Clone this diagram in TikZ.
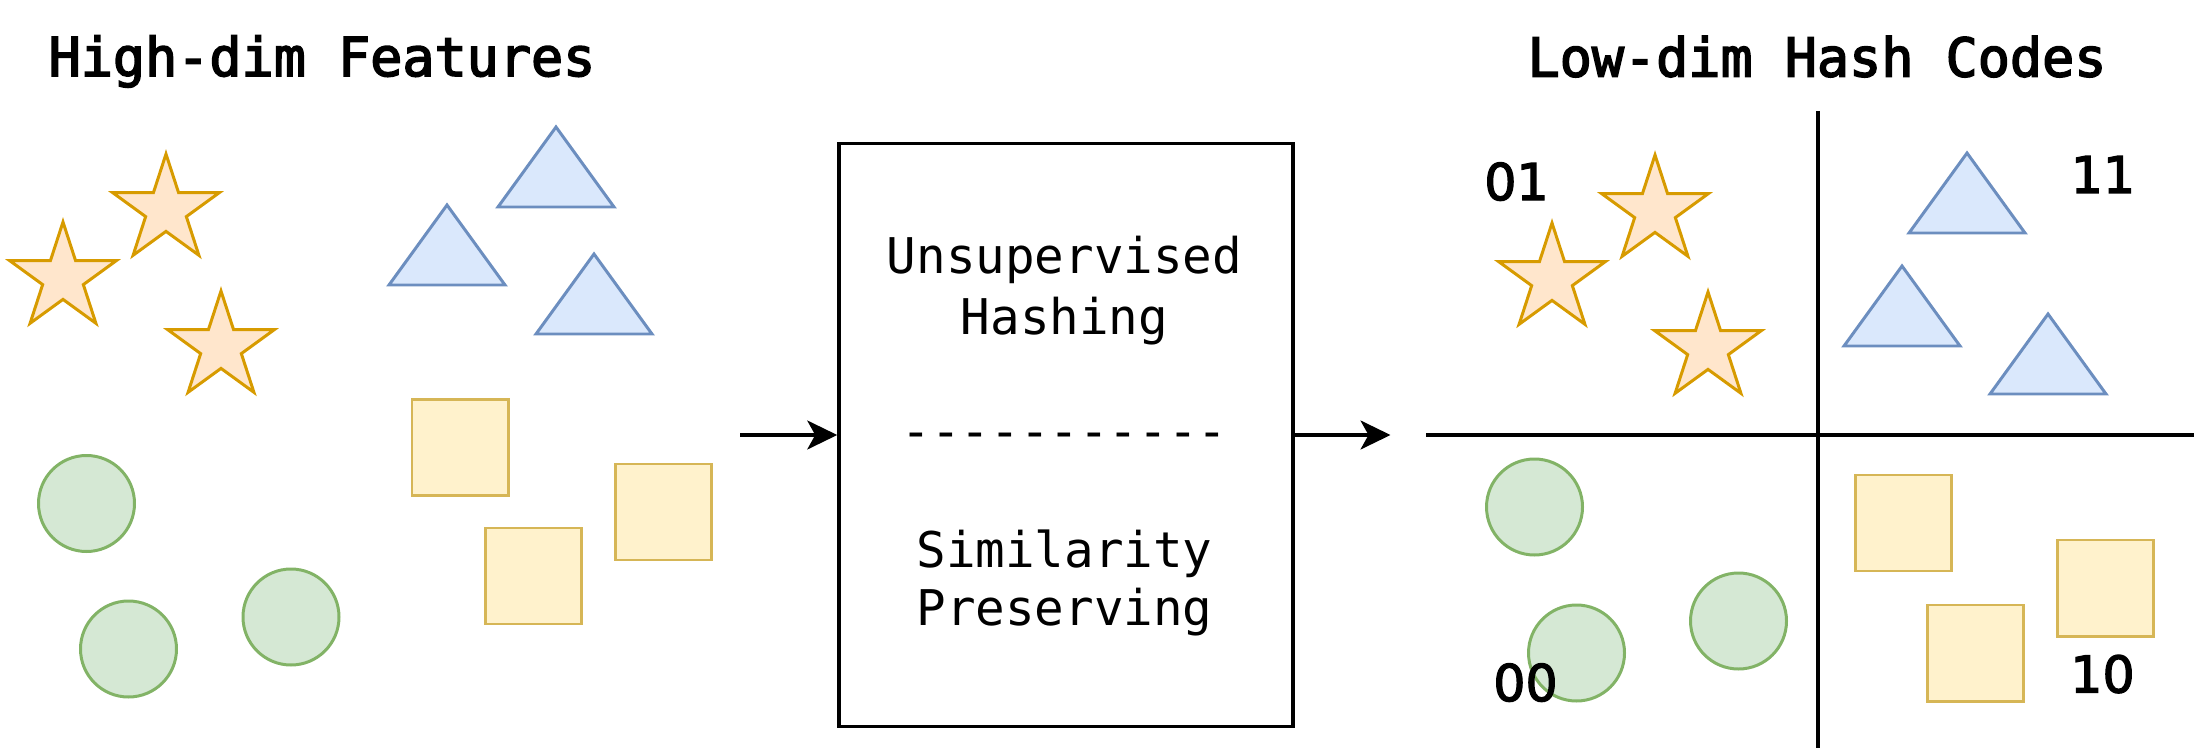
\documentclass[tikz,border=0pt]{standalone}
\usepackage{fontspec}
\setmonofont{DejaVu Sans Mono}
\setsansfont{DejaVu Sans}
\newfontfamily\headfont{DejaVu Sans Mono}[FakeBold=3]
\newfontfamily\codefont{DejaVu Sans}[FakeBold=2.5]
\usepackage{tikz}
\usetikzlibrary{shapes.geometric, arrows.meta, positioning}

\definecolor{starfill}{HTML}{FFE6CC}
\definecolor{stardraw}{HTML}{D79B00}
\definecolor{trifill}{HTML}{DAE8FC}
\definecolor{tridraw}{HTML}{6C8EBF}
\definecolor{sqfill}{HTML}{FFF2CC}
\definecolor{sqdraw}{HTML}{D6B656}
\definecolor{dotfill}{HTML}{D5E8D4}
\definecolor{dotdraw}{HTML}{82B366}

\tikzset{
    starnode/.style={star, star points=5, star point ratio=2.618, minimum size=1.12cm, inner sep=0pt, draw=stardraw, fill=starfill, line width=0.85pt},
    trinode/.style={draw=tridraw, fill=trifill, line width=0.85pt, line join=miter},
    sqnode/.style={rectangle, minimum size=0.96cm, inner sep=0pt, draw=sqdraw, fill=sqfill, line width=0.85pt},
    dotnode/.style={circle, minimum size=0.96cm, inner sep=0pt, draw=dotdraw, fill=dotfill, line width=0.85pt},
    titletext/.style={anchor=base, inner sep=0pt, font=\headfont\fontsize{15.2}{18}\selectfont},
    boxtext/.style={anchor=base, inner sep=0pt, font=\ttfamily\fontsize{14}{17}\selectfont},
    codetext/.style={anchor=base, inner sep=0pt, font=\codefont\fontsize{14.4}{17}\selectfont}
}

\begin{document}
\begin{tikzpicture}[->,>={Stealth[length=0.3cm, width=0.29cm, inset=0.08cm]}]
        \useasboundingbox (0,0) rectangle (21.94,-7.48);

        % high-dim features
        \node at (3.22,-0.76) [titletext] (hf_title) {High-dim Features};

        \node at (0.63,-2.78) [starnode] (hf_star1) {};
        \node at (1.66,-2.10) [starnode] (hf_star2) {};
        \node at (2.21,-3.47) [starnode] (hf_star3) {};

        \draw[-, trinode] (5.56,-1.27) -- ++(0.58,-0.80) -- ++(-1.16,0) -- cycle;
        \draw[-, trinode] (4.47,-2.05) -- ++(0.58,-0.80) -- ++(-1.16,0) -- cycle;
        \draw[-, trinode] (5.94,-2.54) -- ++(0.58,-0.80) -- ++(-1.16,0) -- cycle;

        \node at (4.60,-4.475) [sqnode] (hf_sq1) {};
        \node at (5.33,-5.76) [sqnode] (hf_sq2) {};
        \node at (6.63,-5.12) [sqnode] (hf_sq3) {};

        \node at (0.865,-5.035) [dotnode] (hf_dot1) {};
        \node at (1.285,-6.49) [dotnode] (hf_dot2) {};
        \node at (2.91,-6.17) [dotnode] (hf_dot3) {};

        % hashing block
        \node at (10.66,-4.35) [rectangle, draw, line width=1pt, minimum width=4.54cm, minimum height=5.83cm] (hash) {};
        \node at (10.645,-2.74) [boxtext] (hash_l1) {Unsupervised};
        \node at (10.645,-3.34) [boxtext] (hash_l2) {Hashing};
        \node at (10.645,-4.48) [boxtext] (hash_sep) {-{}-{}-{}-{}-{}-{}-{}-{}-{}-{}-};
        \node at (10.645,-5.67) [boxtext] (hash_l3) {Similarity};
        \node at (10.645,-6.25) [boxtext] (hash_l4) {Preserving};

        \coordinate (in) at (7.40,-4.35);
        \coordinate (out) at (13.905,-4.35);
        \draw[line width=0.9pt] (in) -- (hash.west);
        \draw[line width=0.9pt] (hash.east) -- (out);

        % low-dim hash codes
        \node at (18.17,-0.765) [titletext] (hc_title) {Low-dim Hash Codes};

        \coordinate (axis_top) at (18.18,-1.11);
        \coordinate (axis_bottom) at (18.18,-7.48);
        \coordinate (axis_left) at (14.26,-4.35);
        \coordinate (axis_right) at (21.94,-4.35);
        \draw[-, line width=0.9pt] (axis_top) -- (axis_bottom);
        \draw[-, line width=0.9pt] (axis_left) -- (axis_right);

        \node at (15.52,-2.79) [starnode] (hc_star1) {};
        \node at (16.55,-2.11) [starnode] (hc_star2) {};
        \node at (17.08,-3.48) [starnode] (hc_star3) {};

        \draw[-, trinode] (19.67,-1.53) -- ++(0.58,-0.80) -- ++(-1.16,0) -- cycle;
        \draw[-, trinode] (19.02,-2.66) -- ++(0.58,-0.80) -- ++(-1.16,0) -- cycle;
        \draw[-, trinode] (20.48,-3.14) -- ++(0.58,-0.80) -- ++(-1.16,0) -- cycle;

        \node at (19.03,-5.23) [sqnode] (hc_sq1) {};
        \node at (19.75,-6.53) [sqnode] (hc_sq2) {};
        \node at (21.05,-5.88) [sqnode] (hc_sq3) {};

        \node at (15.345,-5.07) [dotnode] (hc_dot1) {};
        \node at (15.765,-6.53) [dotnode] (hc_dot2) {};
        \node at (17.385,-6.21) [dotnode] (hc_dot3) {};

        \node at (15.165,-2.00) [codetext] (code_01) {01};
        \node at (21.03,-1.93) [codetext] (code_11) {11};
        \node at (15.255,-7.01) [codetext] (code_00) {00};
        \node at (21.025,-6.925) [codetext] (code_10) {10};

    \end{tikzpicture}
\end{document}
